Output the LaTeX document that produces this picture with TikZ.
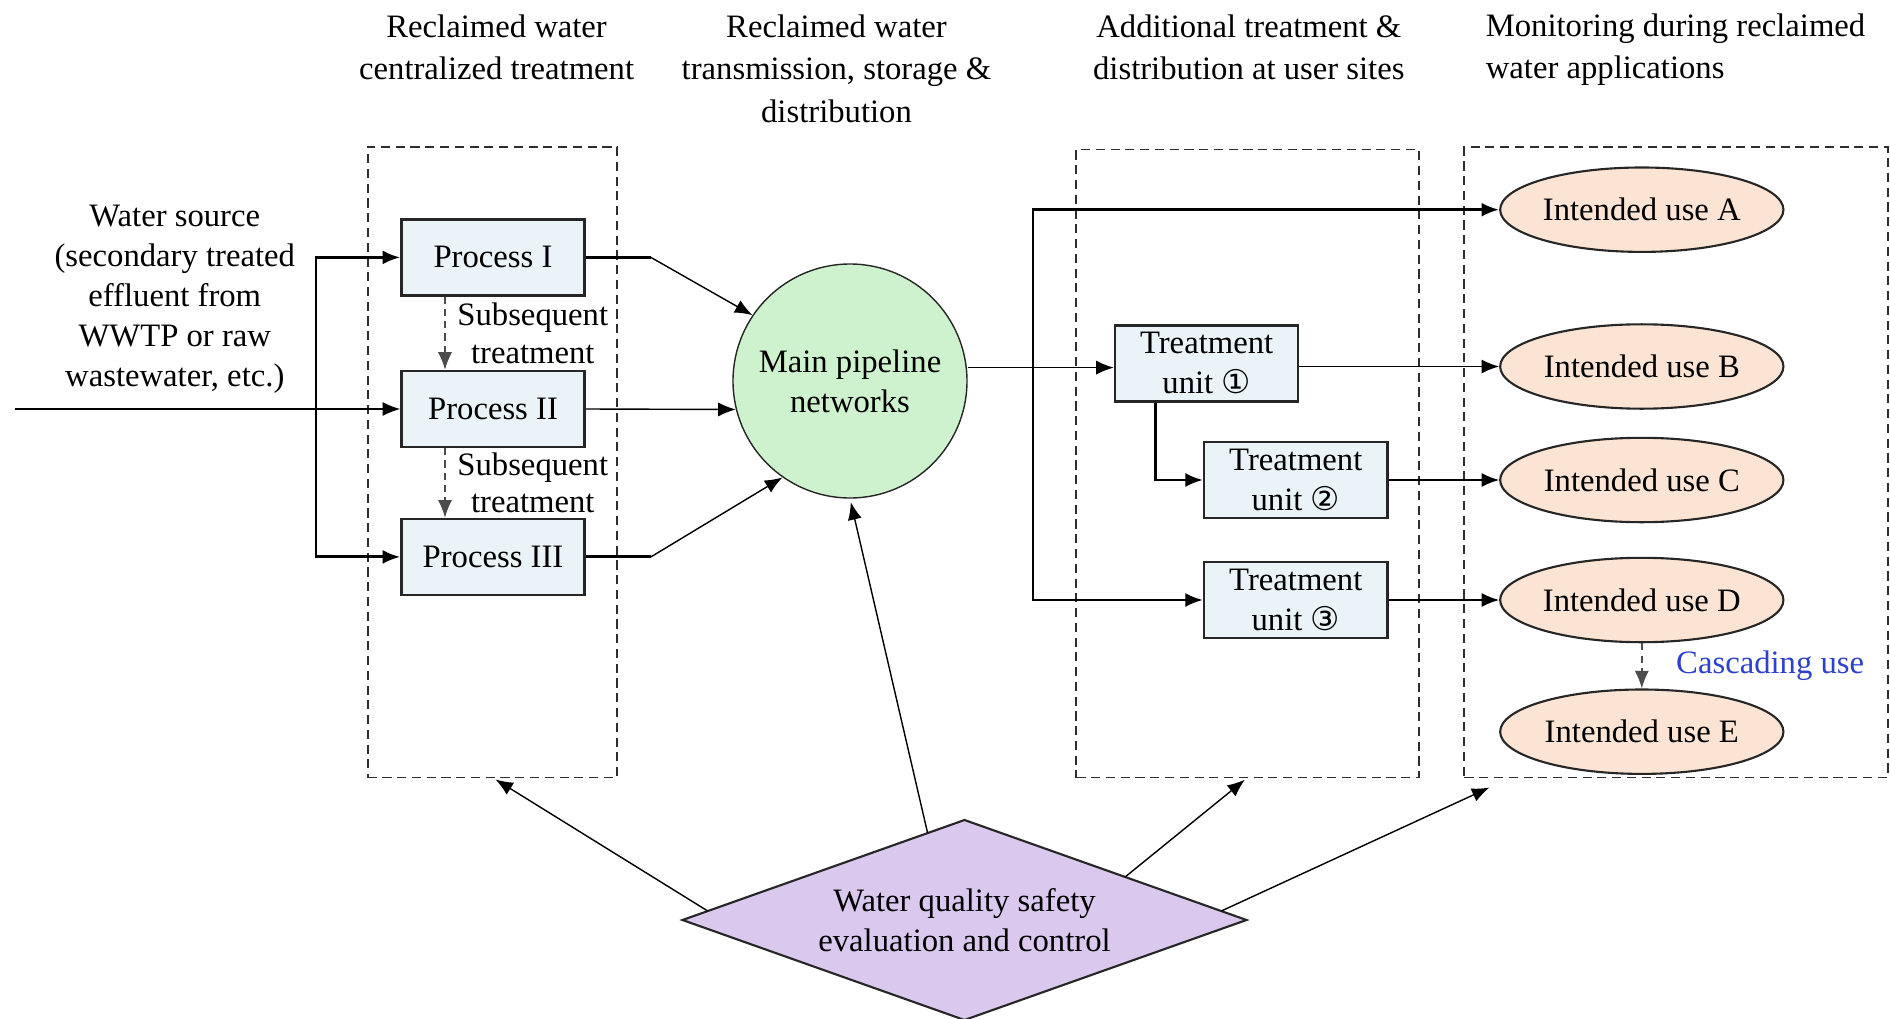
\documentclass[tikz,border=0pt]{standalone}
\usepackage{fontspec}
\setmainfont{Liberation Serif}
\newfontfamily\circfont{DejaVu Sans}
\usepackage{tikz}
\usetikzlibrary{arrows.meta,shapes.geometric}

\definecolor{procfill}{RGB}{234,244,248}
\definecolor{pipefill}{RGB}{206,242,206}
\definecolor{usefill}{RGB}{252,228,212}
\definecolor{evalfill}{RGB}{218,200,238}
\definecolor{cascblue}{RGB}{45,65,205}
\definecolor{framegray}{RGB}{45,45,45}

\begin{document}
\begin{tikzpicture}[
        >={Latex[length=5pt,width=4pt]},
        every node/.style={color=black, font=\fontsize{9.3pt}{11.4pt}\selectfont},
        head text/.style={align=center, font=\fontsize{9.3pt}{12pt}\selectfont},
        group frame/.style={draw=framegray, dash pattern=on 2.6pt off 1.6pt, line width=0.55pt, inner sep=0pt, outer sep=0pt},
        process box/.style={draw=black!85, fill=procfill, line width=0.7pt, align=center,
          minimum width=1.832cm, minimum height=0.759cm, inner sep=0pt},
        pipe circle/.style={circle, draw=black!85, fill=pipefill, thin, align=center,
          minimum size=2.34cm, inner sep=0pt},
        use oval/.style={ellipse, draw=black!85, fill=usefill, line width=0.6pt,
          minimum width=2.833cm, minimum height=0.844cm, inner sep=0pt},
        eval diamond/.style={diamond, draw=black!85, fill=evalfill, line width=0.6pt, align=center,
          shape aspect=2.82, minimum width=5.64cm, minimum height=2.0cm, inner sep=0pt, outer sep=0pt},
        bypass line/.style={thick},
        sub arrow/.style={->, thin, black!70, dash pattern=on 2pt off 1.5pt},
        sub text/.style={align=center, font=\fontsize{9.3pt}{10.6pt}\selectfont},
        casc text/.style={color=cascblue}
      ]
      \useasboundingbox (0,0) rectangle (18.9,-10.19);

      \node[group frame, minimum width=2.496cm, minimum height=6.304cm] (box1) at (4.924,-4.623) {};
      \node[group frame, minimum width=3.424cm, minimum height=6.28cm] (box2) at (12.476,-4.635) {};
      \node[group frame, minimum width=4.231cm, minimum height=6.304cm] (box3) at (16.76,-4.623) {};

      \node[head text] (head1) at (4.966,-0.476) {Reclaimed water\\centralized treatment};
      \node[head text] (head2) at (8.365,-0.687) {Reclaimed water\\transmission, storage \&\\distribution};
      \node[head text] (head3) at (12.488,-0.476) {Additional treatment \&\\distribution at user sites};
      \node[head text, align=left, anchor=west, inner sep=0pt] (head4) at (14.851,-0.50) {Monitoring during reclaimed\\water applications};

      \node[align=center] (source) at (1.748,-2.99) {Water source\\(secondary treated\\effluent from\\WWTP or raw\\wastewater, etc.)};

      \node[process box] (proc1) at (4.93,-2.574) {Process I};
      \node[process box] (proc2) at (4.93,-4.09) {Process II};
      \node[process box] (proc3) at (4.93,-5.569) {Process III};

      \node[pipe circle] (main) at (8.50,-3.81) {Main pipeline\\networks};

      \node[process box] (tu1) at (12.066,-3.634) {Treatment\\unit {\circfont ①}};
      \node[process box] (tu2) at (12.958,-4.80) {Treatment\\unit {\circfont ②}};
      \node[process box] (tu3) at (12.958,-6.0) {Treatment\\unit {\circfont ③}};

      \node[use oval] (usea) at (16.418,-2.097) {Intended use A};
      \node[use oval] (useb) at (16.418,-3.665) {Intended use B};
      \node[use oval] (usec) at (16.418,-4.80) {Intended use C};
      \node[use oval] (used) at (16.418,-6.0) {Intended use D};
      \node[use oval] (usee) at (16.418,-7.317) {Intended use E};

      \node[eval diamond] (eval) at (9.645,-9.20) {Water quality safety\\evaluation and control};

      \coordinate (src) at (0.145,-4.09);
      \coordinate (byp) at (3.16,-4.09);
      \draw[->] (src) -- (proc2.west);
      \draw[bypass line,->] (byp) |- (proc1.west);
      \draw[bypass line,->] (byp) |- (proc3.west);

      \draw[sub arrow] ([xshift=-0.48cm]proc1.south) -- ([xshift=-0.48cm]proc2.north)
        node[midway, right, sub text] {Subsequent\\treatment};
      \draw[sub arrow] ([xshift=-0.48cm]proc2.south) -- ([xshift=-0.48cm]proc3.north)
        node[midway, right, sub text] {Subsequent\\treatment};

      \coordinate (p1out) at (6.509,-2.574);
      \coordinate (p3out) at (6.509,-5.569);
      \draw[bypass line] (proc1.east) -- (p1out);
      \draw[->] (p1out) -- (main.146);
      \draw[->] (proc2.east) -- (main.194);
      \draw[bypass line] (proc3.east) -- (p3out);
      \draw[->] (p3out) -- (main.235);

      \coordinate (split) at (10.33,-3.676);
      \draw[->] (main.east |- split) -- (tu1.west |- split);
      \draw[bypass line,->] (split) |- (usea.west);
      \draw[bypass line,->] (split) |- (tu3.west);
      \draw[bypass line,->] ([xshift=0.42cm]tu1.south west) |- (tu2.west);

      \draw[->] (tu1.east |- useb) -- (useb.west);
      \draw[->] (tu2.east) -- (usec.west);
      \draw[->] (tu3.east) -- (used.west);
      \draw[sub arrow] (used.south) -- (usee.north)
        node[midway, right=0.22cm, casc text] {Cascading use};

      \draw[->, shorten >=1pt] (eval.178) -- (box1.south);
      \draw[->, shorten >=1pt] (eval.113) -- (main.south);
      \draw[->, shorten >=1pt] (eval.15) -- (box2.south);
      \draw[->] (eval.2) -- ([xshift=0.25cm,yshift=-0.1cm]box3.south west);
      \end{tikzpicture}
\end{document}
